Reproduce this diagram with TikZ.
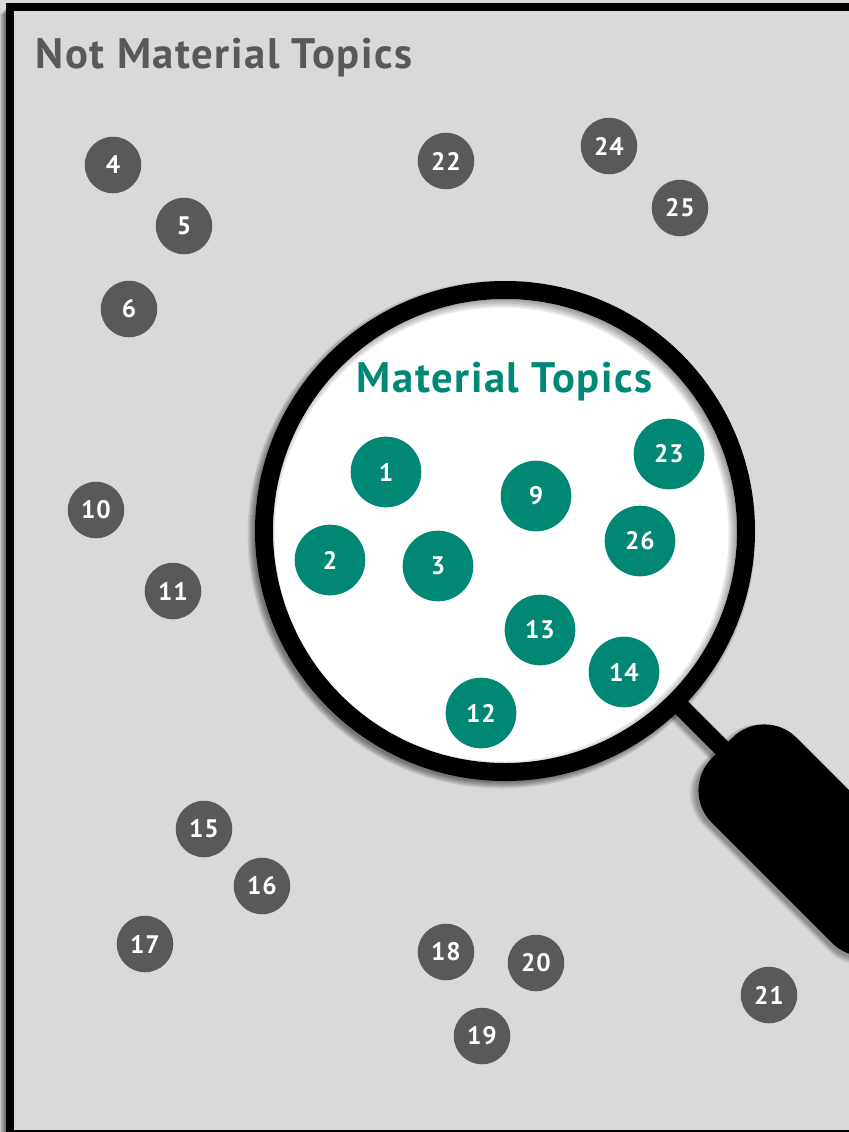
\documentclass[tikz,border=0pt]{standalone}
\usepackage{fontspec}
\setmainfont[LetterSpace=3.6]{PT Sans}
\definecolor{panelgrey}{HTML}{D9D9D9}
\definecolor{dotgrey}{HTML}{595959}
\definecolor{dotteal}{HTML}{008875}
\begin{document}
\begin{tikzpicture}[x=0.75pt,y=-0.75pt,
  greydot/.style={circle,fill=dotgrey,text=white,font=\fontsize{19}{19}\selectfont\bfseries,minimum size=42.4pt,inner sep=0pt},
  tealdot/.style={circle,fill=dotteal,text=white,font=\fontsize{19}{19}\selectfont\bfseries,minimum size=53pt,inner sep=0pt},
  heading/.style={anchor=base west,font=\fontsize{32}{32}\selectfont\bfseries,inner sep=0pt}]
  \useasboundingbox (0,0) rectangle (849,1132);
  \clip (0,0) rectangle (849,1132);
  \fill[panelgrey] (0,0) rectangle (849,1132);
  % frame and its shadow
  \foreach \w in {1,2,...,6} {
    \fill[black,opacity=0.1] (6-\w,8+\w) rectangle (6,1132);
  }
  \draw[black,line width=6pt] (10,7) rectangle (900,1134);
  \node[heading,text=dotgrey] (nottitle) at (35.5,68) {Not Material Topics};
  % handle of the glass
  \begin{scope}[shift={(505,531)},rotate=-45]
    \foreach \w in {0,1,...,4} {
      \fill[black,opacity=0.08,rounded corners=34pt] (307-\w,-60+\w) rectangle (568+\w,64+\w);
      \fill[black,opacity=0.08] (245,-9+\w) rectangle (310,13+\w);
    }
    \fill[black] (245,-9) rectangle (310,9);
    \fill[black,rounded corners=34pt] (307,-60) rectangle (568,60);
  \end{scope}
  % glass
  \foreach \r in {248,249,...,254} {
    \fill[black,opacity=0.08] (501.5,534.5) circle (\r);
  }
  \fill[white] (505,531) circle (241);
  \begin{scope}
    \clip (505,531) circle (232);
    \foreach \k in {5,3,1,-1,-3} {
      \fill[black,opacity=0.09,even odd rule] (200,200) rectangle (800,850) (501.5,534.5) circle (232-\k);
    }
  \end{scope}
  \draw[black,line width=13.5pt] (505,531) circle (241);
  \node[heading,text=dotteal,anchor=base] (mattitle) at (504.5,392) {Material Topics};
  % topics outside the glass
  \foreach \n/\x/\y in {4/113/165,5/184/226,6/129/309,10/96/510,11/173/591,15/204/829,
    16/262/886,17/145/944,18/446/952,19/482/1036,20/536/963,21/769/995,22/446/161,
    24/609/146,25/680/208}
    \node[greydot] (topic\n) at (\x,\y) {\raisebox{-0.8pt}{\n}};
  % topics inside the glass
  \foreach \n/\x/\y in {1/386/472,2/330/560,3/438/566,9/536/496,13/540/630,14/624/672,
    12/481/713,23/669/454,26/640/541}
    \node[tealdot] (topic\n) at (\x,\y) {\raisebox{-0.8pt}{\n}};
\end{tikzpicture}
\end{document}
